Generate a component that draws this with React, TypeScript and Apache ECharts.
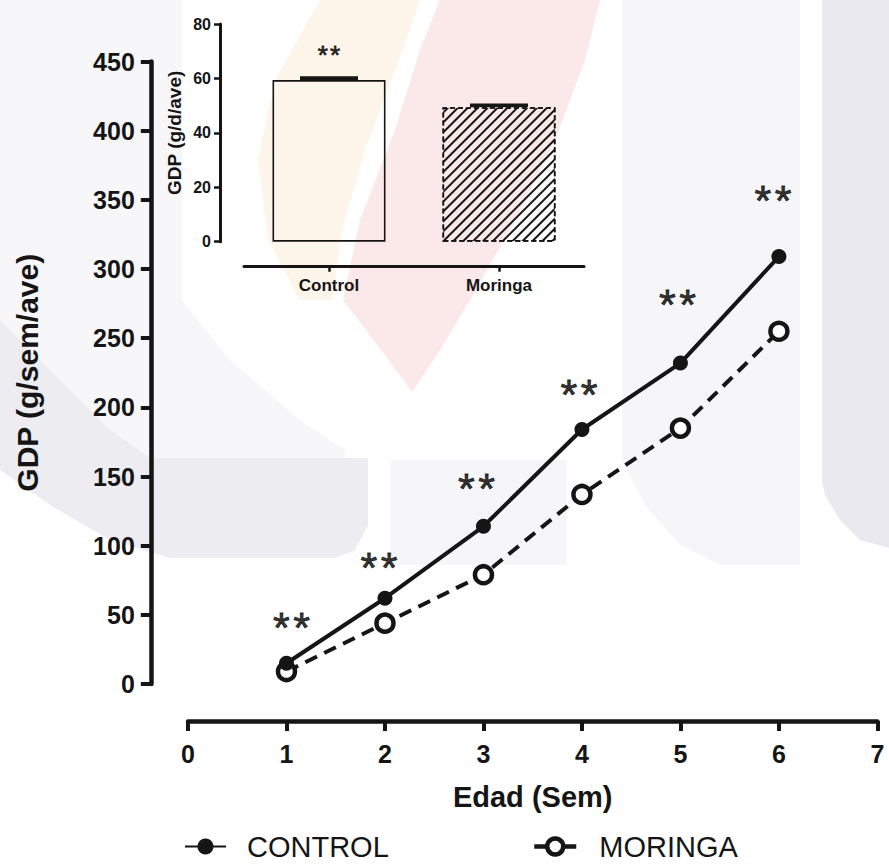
import React, { useEffect, useRef } from 'react';
import * as echarts from 'echarts';

// ---- Data ----
const weeks = [1, 2, 3, 4, 5, 6];
const controlGDP = [15, 62, 114, 184, 232, 309];
const moringaGDP = [9, 44, 79, 137, 185, 255];
// significance marks (annotation positions, data units)
const sigX = [1.05, 1.94, 2.93, 3.97, 4.97, 5.94];
const sigY = [46, 90, 147, 215, 280, 355];
const sigText = '*\u200A*';

const xTicks = [0, 1, 2, 3, 4, 5, 6, 7];
const yTicksMax = 450;

// inset (bar chart)
const insetCategories = ['Control', 'Moringa'];
const insetMeans = [59.4, 49.4];
const insetSEM = [1.4, 1.4];
const insetSigY = [70.4];

const FONT = "'Liberation Sans', Arial, Helvetica, sans-serif";
const INK = '#151515';

export default function App() {
  const ref = useRef<HTMLDivElement>(null);
  useEffect(() => {
    if (!ref.current) return;
    const chart = echarts.init(ref.current, undefined, { renderer: 'svg' });

    const wm = (points: number[][], fill: string, smooth = 0) => ({
      type: 'polygon', z: -100, silent: true,
      shape: { points, smooth }, style: { fill },
    });

    const starLabel = (fontSize: number, dy: number) => ({
      show: true, position: 'inside', formatter: sigText, offset: [0, dy],
      fontSize, color: '#000', fontFamily: FONT, fontWeight: 'normal',
      textBorderWidth: 0.8, textBorderColor: '#000',
    });

    const option: any = {
      animation: false,
      backgroundColor: '#ffffff',
      graphic: {
        elements: [
          wm([[0, 0], [182, 0], [182, 300], [230, 360], [300, 420], [345, 450], [345, 462], [0, 462]], '#f7f7f9'),
          wm([[0, 320], [50, 370], [110, 430], [150, 458], [368, 458], [368, 525], [355, 550], [335, 558], [170, 558], [110, 540], [50, 505], [0, 470]], '#ececf1'),
          wm([[391, 460], [567, 460], [567, 565], [391, 565]], '#f6f6f8'),
          wm([[622, 0], [800, 0], [800, 565], [720, 565], [680, 545], [645, 505], [622, 460]], '#f6f6f8'),
          wm([[822, 0], [889, 0], [889, 548], [860, 540], [840, 520], [825, 495], [822, 480]], '#e9e9ef'),
          wm([[440, 0], [600, 0], [585, 60], [555, 140], [515, 220], [470, 300], [440, 350], [412, 392], [385, 355], [343, 300], [360, 220], [395, 130], [420, 50]], '#fbe8e8'),
          wm([[320, 0], [420, 0], [395, 70], [365, 150], [342, 230], [332, 300], [300, 300], [268, 240], [258, 160], [275, 80]], '#fef5ea'),
        ],
      },
      grid: [
        { left: 188, right: 11.6, top: 61.5, bottom: 182 },
        { left: 244, width: 340, top: 24, height: 217.7 },
      ],
      xAxis: [
        {
          type: 'value', gridIndex: 0, min: xTicks[0], max: xTicks[xTicks.length - 1], interval: 1,
          position: 'bottom', offset: 37,
          axisLine: { show: true, onZero: false, lineStyle: { color: INK, width: 4.5 } },
          axisTick: { show: true, length: 10, lineStyle: { color: INK, width: 4 } },
          axisLabel: { margin: 20, fontSize: 25, fontWeight: 'bold', color: INK, fontFamily: FONT },
          splitLine: { show: false },
          name: 'Edad (Sem)', nameLocation: 'middle', nameGap: 61,
          nameTextStyle: { fontSize: 29, fontWeight: 'bold', color: INK, fontFamily: FONT },
        },
        {
          type: 'category', gridIndex: 1, data: insetCategories, position: 'bottom', offset: 25,
          axisLine: { show: true, onZero: false, lineStyle: { color: INK, width: 3 } },
          axisTick: { show: true, alignWithLabel: true, length: 5, lineStyle: { color: INK, width: 2.5 } },
          axisLabel: { margin: 10, fontSize: 17, fontWeight: 'bold', color: INK, fontFamily: FONT },
          splitLine: { show: false },
        },
      ],
      yAxis: [
        {
          type: 'value', gridIndex: 0, min: 0, max: yTicksMax, interval: 50, offset: 37.2,
          axisLine: { show: true, onZero: false, lineStyle: { color: INK, width: 4.5 } },
          axisTick: { show: true, length: 10, lineStyle: { color: INK, width: 4 } },
          axisLabel: { margin: 16, fontSize: 25, fontWeight: 'bold', color: INK, fontFamily: FONT },
          splitLine: { show: false },
          name: 'GDP (g/sem/ave)', nameLocation: 'middle', nameGap: 108, nameRotate: 90,
          nameTextStyle: { fontSize: 30, fontWeight: 'bold', color: INK, fontFamily: FONT },
        },
        {
          type: 'value', gridIndex: 1, min: 0, max: 80, interval: 20, offset: 24,
          axisLine: { show: true, onZero: false, lineStyle: { color: INK, width: 3 } },
          axisTick: { show: true, length: 6, lineStyle: { color: INK, width: 2.5 } },
          axisLabel: { margin: 9, fontSize: 16, fontWeight: 'bold', color: INK, fontFamily: FONT },
          splitLine: { show: false },
          name: 'GDP (g/d/ave)', nameLocation: 'middle', nameGap: 36, nameRotate: 90,
          nameTextStyle: { fontSize: 19, fontWeight: 'bold', color: INK, fontFamily: FONT },
        },
      ],
      legend: [
        {
          data: ['CONTROL'], left: 179, top: 827, itemWidth: 41, itemHeight: 20, padding: 5,
          textStyle: { fontSize: 29, color: INK, fontFamily: FONT, padding: [0, 0, 0, 16] },
        },
        {
          data: ['MORINGA'], left: 527, top: 827, itemWidth: 42, itemHeight: 20, padding: 5,
          lineStyle: { type: 'solid', width: 4.5 },
          itemStyle: { borderWidth: 4.5 },
          textStyle: { fontSize: 29, color: INK, fontFamily: FONT, padding: [0, 0, 0, 18] },
        },
      ],
      series: [
        {
          name: 'MORINGA', type: 'line', xAxisIndex: 0, yAxisIndex: 0, z: 2,
          data: weeks.map((w, i) => [w, moringaGDP[i]]),
          symbol: 'circle', symbolSize: 17,
          itemStyle: { color: '#ffffff', borderColor: INK, borderWidth: 4.5 },
          lineStyle: { color: INK, width: 4, type: [13, 8] },
        },
        {
          name: 'CONTROL', type: 'line', xAxisIndex: 0, yAxisIndex: 0, z: 3,
          data: weeks.map((w, i) => [w, controlGDP[i]]),
          symbol: 'circle', symbolSize: 15,
          itemStyle: { color: INK },
          lineStyle: { color: INK, width: 4 },
        },
        {
          name: 'sig', type: 'scatter', xAxisIndex: 0, yAxisIndex: 0, z: 4, silent: true,
          data: sigX.map((x, i) => [x, sigY[i]]),
          symbolSize: 0,
          itemStyle: { color: '#000' },
          label: starLabel(43, 7),
        },
        {
          name: 'inset', type: 'bar', xAxisIndex: 1, yAxisIndex: 1, barWidth: 113,
          data: insetMeans.map((v, i) => ({
            value: v,
            itemStyle: i === 0
              ? { color: 'rgba(255,255,255,0)', borderColor: INK, borderWidth: 1.6 }
              : {
                  color: 'rgba(255,255,255,0)', borderColor: INK, borderWidth: 1.6, borderType: [5, 3],
                  decal: {
                    symbol: 'rect', symbolSize: 1, color: INK, backgroundColor: 'rgba(0,0,0,0)',
                    dashArrayX: [1, 0], dashArrayY: [1.6, 4.8], rotation: -Math.PI / 4,
                  },
                },
          })),
        },
        {
          name: 'sem', type: 'custom', xAxisIndex: 1, yAxisIndex: 1, z: 5,
          data: insetMeans.map((m, i) => [i, m, m + insetSEM[i]]),
          renderItem: (params: any, api: any) => {
            const c0 = api.coord([api.value(0), api.value(1)]);
            const c1 = api.coord([api.value(0), api.value(2)]);
            return {
              type: 'rect',
              shape: { x: c0[0] - 29, y: c1[1], width: 58, height: c0[1] - c1[1] },
              style: { fill: INK },
            };
          },
        },
        {
          name: 'insetSig', type: 'scatter', xAxisIndex: 1, yAxisIndex: 1, z: 5, silent: true,
          data: insetSigY.map((y, i) => [i, y]),
          symbolSize: 0,
          itemStyle: { color: '#000' },
          label: starLabel(26, 5),
        },
      ],
    };
    chart.setOption(option);
    return () => chart.dispose();
  }, []);
  return (
    <div
      ref={ref}
      style={{ position: 'absolute', left: 0, top: 0, width: 889, height: 866 }}
    />
  );
}
